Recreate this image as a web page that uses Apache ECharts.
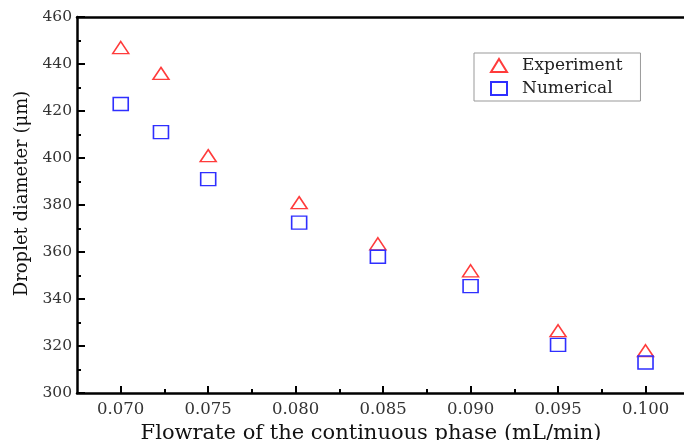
<!DOCTYPE html>
<html><head><meta charset="utf-8">
<script src="https://cdn.jsdelivr.net/npm/echarts@6/dist/echarts.min.js"></script>
<style>html,body{margin:0;padding:0;background:#fff}#c{width:684px;height:440px}</style>
</head><body><div id="c"></div>
<script>
const flowrate = [0.0700, 0.0723, 0.0750, 0.0802, 0.0847, 0.0900, 0.0950, 0.1000];
const experiment = [447, 436, 401, 381, 363.5, 352, 326.5, 318];
const numerical = [423, 411, 391, 372.5, 358, 345.5, 320.5, 313];
const xMajorTicks = [0.070, 0.075, 0.080, 0.085, 0.090, 0.095, 0.100];
const xMinorTicks = [0.0725, 0.0775, 0.0825, 0.0875, 0.0925, 0.0975];
const seriesNames = ['Experiment', 'Numerical'];
const xName = 'Flowrate of the continuous phase (mL/min)';
const yName = 'Droplet diameter (\u03bcm)';

const font = 'DejaVu Serif';
const pair = (xs, ys) => xs.map((x, i) => [x, ys[i]]);
const chart = echarts.init(document.getElementById('c'));
const xmin = 0.0675, xmax = 0.1022;
chart.setOption({
  animation: false,
  grid: {left: 77, top: 17, right: 0, bottom: 47, outerBoundsMode: 'none', containLabel: false},
  legend: {
    orient: 'vertical', left: 474, top: 53,
    padding: [4, 18, 4, 16], itemGap: 6,
    borderColor: '#999', borderWidth: 1,
    itemWidth: 16, itemHeight: 13,
    textStyle: {fontFamily: font, fontSize: 17, color: '#222', padding: [0, 0, 0, 10], lineHeight: 17},
    data: seriesNames
  },
  xAxis: [{
    type: 'value', min: xmin, max: xmax, position: 'bottom',
    axisLine: {lineStyle: {color: '#000', width: 2.5}},
    axisTick: {inside: true, length: 7, lineStyle: {color: '#000', width: 2}, customValues: xMajorTicks},
    axisLabel: {customValues: xMajorTicks, formatter: v => v.toFixed(3), fontFamily: font, fontSize: 16.5, color: '#333', margin: 8},
    splitLine: {show: false},
    name: xName, nameLocation: 'middle', nameGap: 25,
    nameTextStyle: {fontFamily: font, fontSize: 21, color: '#111', padding: [0, 19, 0, 0]}
  }, {
    type: 'value', min: xmin, max: xmax, position: 'bottom',
    axisLine: {show: false},
    axisTick: {inside: true, length: 4, lineStyle: {color: '#000', width: 2}, customValues: xMinorTicks},
    axisLabel: {show: false}, splitLine: {show: false}
  }, {
    type: 'value', min: xmin, max: xmax, position: 'top',
    axisLine: {lineStyle: {color: '#000', width: 2.5}},
    axisTick: {show: false}, axisLabel: {show: false}, splitLine: {show: false}
  }],
  yAxis: {
    type: 'value', min: 300, max: 460, interval: 20,
    axisLine: {show: true, lineStyle: {color: '#000', width: 2.5}},
    axisTick: {inside: true, length: 8, lineStyle: {color: '#000', width: 2}},
    minorTick: {show: true, splitNumber: 2, length: 4, lineStyle: {color: '#000', width: 2}},
    axisLabel: {fontFamily: font, fontSize: 15.5, color: '#333', margin: 5},
    splitLine: {show: false},
    name: yName, nameLocation: 'middle', nameGap: 44,
    nameTextStyle: {fontFamily: font, fontSize: 18, color: '#111', padding: [0, 0, 0, 23]}
  },
  series: [{
    name: seriesNames[0], type: 'scatter', data: pair(flowrate, experiment),
    symbol: 'triangle', symbolSize: [16, 12],
    itemStyle: {color: 'rgba(255,255,255,0)', borderColor: '#ff3b3b', borderWidth: 1.5, opacity: 1}
  }, {
    name: seriesNames[1], type: 'scatter', data: pair(flowrate, numerical),
    symbol: 'rect', symbolSize: [15, 13],
    itemStyle: {color: 'rgba(255,255,255,0)', borderColor: '#2f2fff', borderWidth: 1.5, opacity: 1}
  }]
});
</script></body></html>
